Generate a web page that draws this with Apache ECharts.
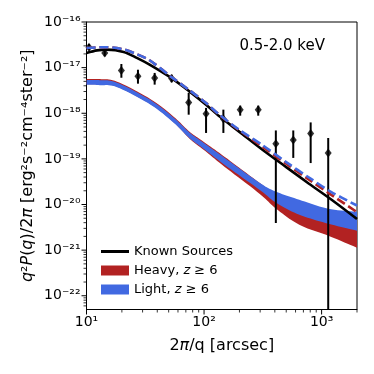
<!DOCTYPE html>
<html>
<head>
<meta charset="utf-8">
<script src="https://cdn.jsdelivr.net/npm/echarts@6/dist/echarts.min.js"></script>
<style>
html, body { margin: 0; padding: 0; background: #fff; }
#container { width: 374px; height: 374px; }
</style>
</head>
<body>
<div id="container"></div>
<script>
// measured power (points with error bars), x in arcsec
var pointQ  = [10.5, 14.3, 19.8, 27.4, 38, 53, 74, 104, 146, 203, 289, 408, 574, 807, 1138];
var pointP  = [2.8e-17, 2.1e-17, 8.7e-18, 6.5e-18, 5.9e-18, 5.8e-18, 1.73e-18, 9.8e-19, 7.5e-19, 1.2e-18, 1.2e-18, 2.15e-19, 2.6e-19, 3.6e-19, 1.35e-19];
var pointHi = [3.3e-17, 2.4e-17, 1.2e-17, 9.0e-18, 7.66e-18, 7.0e-18, 2.8e-18, 1.31e-18, 1.2e-18, 1.47e-18, 1.47e-18, 4.2e-19, 4.2e-19, 6.3e-19, 2.87e-19];
var pointLo = [2.4e-17, 1.77e-17, 6.0e-18, 4.45e-18, 4.24e-18, 4.77e-18, 9.3e-19, 3.7e-19, 3.7e-19, 8.85e-19, 8.85e-19, 3.93e-21, 1.05e-19, 8.1e-20, 1e-25];

// model curves
var curveQ       = [10, 12.3, 14.9, 20.7, 26.8, 34.4, 53.6, 75, 104, 135, 200, 314, 500, 781, 1200, 2000];
var knownSources = [2.10e-17, 2.39e-17, 2.48e-17, 2.21e-17, 1.63e-17, 1.16e-17, 5.74e-18, 3.02e-18, 1.54e-18, 8.55e-19, 3.91e-19, 1.59e-19, 6.6e-20, 2.86e-20, 1.3e-20, 4.8e-21];
var totalLight   = [2.7e-17, 2.78e-17, 2.8e-17, 2.5e-17, 1.97e-17, 1.45e-17, 6.04e-18, 3.2e-18, 1.67e-18, 9.3e-19, 4.3e-19, 2.0e-19, 8.5e-20, 3.9e-20, 1.9e-20, 9.5e-21];
var totalHeavy   = [2.7e-17, 2.78e-17, 2.8e-17, 2.5e-17, 1.97e-17, 1.45e-17, 6.04e-18, 3.2e-18, 1.67e-18, 9.2e-19, 4.2e-19, 1.85e-19, 7.8e-20, 3.5e-20, 1.65e-20, 6.8e-21];

// z >= 6 bands
var bandQ   = [10, 13, 18.2, 35.1, 55.1, 75.3, 99, 149, 296, 410, 646, 1140, 2000];
var lightHi = [5.32e-18, 5.32e-18, 4.69e-18, 1.94e-18, 8.02e-19, 3.76e-19, 2.26e-19, 1.06e-19, 3.0e-20, 1.91e-20, 1.27e-20, 8.09e-21, 6.95e-21];
var lightLo = [4.24e-18, 4.13e-18, 3.73e-18, 1.54e-18, 6.22e-19, 2.84e-19, 1.67e-19, 7.46e-20, 2.11e-20, 1.09e-20, 5.97e-21, 3.8e-21, 2.66e-21];
var heavyHi = [5.6e-18, 5.6e-18, 4.93e-18, 2.04e-18, 8.41e-19, 3.94e-19, 2.38e-19, 1.12e-19, 3.0e-20, 1.73e-20, 1.15e-20, 7.31e-21, 5.97e-21];
var heavyLo = [4.35e-18, 4.24e-18, 3.83e-18, 1.58e-18, 6.38e-19, 2.77e-19, 1.59e-19, 6.75e-20, 1.73e-20, 8.09e-21, 3.6e-21, 2.07e-21, 1.13e-21];

var xMin = 10, xMax = 2000;
var yMin = 5e-23, yMax = 1e-16;

var FONT = 'DejaVu Sans';
var RED = '#b22222', BLUE = '#4169e1';

var supMap = { '-': '\u207b', '0': '\u2070', '1': '\u00b9', '2': '\u00b2', '3': '\u00b3',
  '4': '\u2074', '5': '\u2075', '6': '\u2076', '7': '\u2077', '8': '\u2078', '9': '\u2079' };
function powLabel(v) {
  var l = Math.log10(v), e = Math.round(l);
  if (Math.abs(l - e) > 0.01) return '';
  return '10' + String(e).split('').map(function (c) { return supMap[c]; }).join('');
}

// catmull-rom through pixel points, just for drawing the band edges
function spline(pts) {
  var out = [];
  for (var i = 0; i < pts.length - 1; i++) {
    var p0 = pts[Math.max(i - 1, 0)], p1 = pts[i], p2 = pts[i + 1], p3 = pts[Math.min(i + 2, pts.length - 1)];
    for (var s = 0; s < 10; s++) {
      var t = s / 10, t2 = t * t, t3 = t2 * t;
      var pt = [0, 1].map(function (k) {
        return 0.5 * (2 * p1[k] + (-p0[k] + p2[k]) * t + (2 * p0[k] - 5 * p1[k] + 4 * p2[k] - p3[k]) * t2 + (-p0[k] + 3 * p1[k] - 3 * p2[k] + p3[k]) * t3);
      });
      out.push(pt);
    }
  }
  out.push(pts[pts.length - 1]);
  return out;
}

function bandSeries(name, color, hi, lo) {
  return {
    name: name,
    type: 'custom',
    silent: true,
    itemStyle: { color: color },
    data: [[bandQ[0], hi[0]]],
    renderItem: function (params, api) {
      var top = bandQ.map(function (q, i) { return api.coord([q, hi[i]]); });
      var bot = bandQ.map(function (q, i) { return api.coord([q, lo[i]]); });
      var poly = spline(top).concat(spline(bot).reverse());
      return { type: 'polygon', shape: { points: poly }, style: { fill: color, stroke: null } };
    }
  };
}

var dom = document.getElementById('container');
var myChart = echarts.init(dom, null, { renderer: 'canvas' });

var option = {
  animation: false,
  backgroundColor: '#fff',
  title: {
    text: '0.5-2.0 keV',
    right: 44,
    top: 34,
    textStyle: { fontFamily: FONT, fontSize: 15, fontWeight: 'normal', color: '#000' }
  },
  legend: {
    orient: 'vertical',
    left: 96,
    top: 240,
    itemWidth: 28,
    itemHeight: 10,
    itemGap: 6,
    selectedMode: false,
    data: [
      { name: 'Known Sources', icon: 'path://M0,0 L28,0 L28,3 L0,3 Z', itemStyle: { color: '#000' } },
      { name: 'Heavy, z \u2265 6', icon: 'rect' },
      { name: 'Light, z \u2265 6', icon: 'rect' }
    ],
    formatter: function (name) {
      if (name.indexOf(', z') < 0) return '{t|' + name + '}';
      var parts = name.split(', z');
      return '{t|' + parts[0] + ', }{i|z}{t|' + parts[1] + '}';
    },
    textStyle: {
      fontFamily: FONT, fontSize: 13, color: '#000',
      rich: {
        t: { fontFamily: FONT, fontSize: 13, color: '#000' },
        i: { fontFamily: FONT, fontSize: 13, color: '#000', fontStyle: 'italic' }
      }
    }
  },
  grid: {
    left: 86.5, right: 17, top: 22, bottom: 64.5,
    outerBoundsMode: 'none',
    containLabel: false,
    show: true, borderColor: '#000', borderWidth: 1
  },
  xAxis: {
    type: 'log',
    min: xMin,
    max: xMax,
    name: '2{i|\u03c0}/q [arcsec]',
    nameLocation: 'middle',
    nameGap: 28,
    nameMoveOverlap: false,
    nameTextStyle: {
      fontFamily: FONT, fontSize: 16, color: '#000',
      rich: { i: { fontFamily: FONT, fontSize: 16, color: '#000', fontStyle: 'italic' } }
    },
    axisLine: { show: true, onZero: false, lineStyle: { color: '#000', width: 1 } },
    axisTick: { show: false },
    splitLine: { show: false },
    axisLabel: { formatter: powLabel, margin: 6, color: '#000', fontFamily: FONT, fontSize: 14 }
  },
  yAxis: {
    type: 'log',
    min: yMin,
    max: yMax,
    name: '{i|q}\u00b2{i|P}({i|q})/2{i|\u03c0} [erg\u00b2s\u207b\u00b2cm\u207b\u2074ster\u207b\u00b2]',
    nameLocation: 'middle',
    nameRotate: 90,
    nameGap: 51,
    nameMoveOverlap: false,
    nameTextStyle: {
      fontFamily: FONT, fontSize: 16, color: '#000',
      rich: { i: { fontFamily: FONT, fontSize: 16, color: '#000', fontStyle: 'italic' } }
    },
    axisLine: { show: true, onZero: false, lineStyle: { color: '#000', width: 1 } },
    axisTick: { show: false },
    splitLine: { show: false },
    axisLabel: { formatter: powLabel, margin: 6, color: '#000', fontFamily: FONT, fontSize: 14 }
  },
  series: [
    bandSeries('Heavy, z \u2265 6', RED, heavyHi, heavyLo),
    bandSeries('Light, z \u2265 6', BLUE, lightHi, lightLo),
    {
      name: 'Known Sources',
      type: 'line',
      symbol: 'none',
      smooth: 0.3,
      lineStyle: { color: '#000', width: 2.6 },
      itemStyle: { color: '#000' },
      data: curveQ.map(function (q, i) { return [q, knownSources[i]]; })
    },
    {
      name: 'Heavy total',
      type: 'line',
      symbol: 'none',
      smooth: 0.3,
      lineStyle: { color: RED, width: 2.6, type: [9, 4] },
      data: curveQ.map(function (q, i) { return [q, totalHeavy[i]]; })
    },
    {
      name: 'Light total',
      type: 'line',
      symbol: 'none',
      smooth: 0.3,
      lineStyle: { color: BLUE, width: 2.6, type: [9, 4] },
      data: curveQ.map(function (q, i) { return [q, totalLight[i]]; })
    },
    {
      // error bars
      name: 'errors',
      type: 'custom',
      silent: true,
      data: pointQ.map(function (q, i) { return [q, pointP[i], pointLo[i], pointHi[i]]; }),
      renderItem: function (params, api) {
        var cs = params.coordSys;
        var a = api.coord([api.value(0), api.value(3)]);
        var b = api.coord([api.value(0), api.value(2)]);
        var y2 = Math.min(b[1], cs.y + cs.height);
        return { type: 'line', shape: { x1: a[0], y1: a[1], x2: b[0], y2: y2 }, style: { stroke: '#000', lineWidth: 2 } };
      }
    },
    {
      name: 'points',
      type: 'scatter',
      symbol: 'diamond',
      symbolSize: [7, 9],
      itemStyle: { color: '#000' },
      data: pointQ.map(function (q, i) { return [q, pointP[i]]; })
    },
    {
      // major and minor ticks on the log axes
      name: 'ticks',
      type: 'custom',
      silent: true,
      clip: false,
      data: [[xMin, yMin]],
      renderItem: function (params, api) {
        var kids = [];
        var corner = api.coord([xMin, yMin]);
        var left = corner[0], bottom = corner[1];
        for (var k = -23; k <= -16; k++) {
          for (var m = 1; m <= 9; m++) {
            var v = m * Math.pow(10, k);
            if (v < yMin || v > yMax * 1.0001) continue;
            var y = api.coord([xMin, v])[1];
            var len = m === 1 ? 5 : 3;
            kids.push({ type: 'line', shape: { x1: left - len, y1: y, x2: left, y2: y },
              style: { stroke: '#000', lineWidth: m === 1 ? 1 : 0.8 } });
          }
        }
        for (var j = 1; j <= 3; j++) {
          for (var n = 1; n <= 9; n++) {
            var u = n * Math.pow(10, j);
            if (u < xMin || u > xMax * 1.0001) continue;
            var x = api.coord([u, yMin])[0];
            var l2 = n === 1 ? 5 : 3;
            kids.push({ type: 'line', shape: { x1: x, y1: bottom, x2: x, y2: bottom + l2 },
              style: { stroke: '#000', lineWidth: n === 1 ? 1 : 0.8 } });
          }
        }
        return { type: 'group', children: kids };
      }
    }
  ]
};

myChart.setOption(option);
window.addEventListener('resize', myChart.resize);
</script>
</body>
</html>
